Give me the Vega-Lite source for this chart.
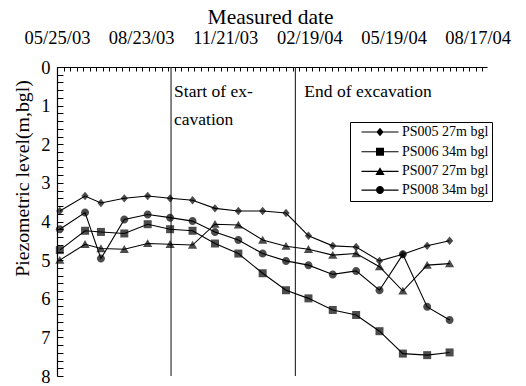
{
  "$schema": "https://vega.github.io/schema/vega-lite/v6.json",
  "width": 430,
  "height": 309,
  "autosize": {"type": "none"},
  "padding": {"left": 57, "top": 67, "right": 39, "bottom": 10},
  "background": "white",
  "config": {
    "view": {"stroke": null},
    "axis": {
      "grid": false,
      "domainColor": "black",
      "tickColor": "black",
      "labelColor": "black",
      "titleColor": "black",
      "labelFont": "Times New Roman",
      "titleFont": "Times New Roman",
      "titleFontWeight": "normal",
      "labelFontSize": 18.5,
      "titleFontSize": 21.5
    },
    "legend": {
      "labelFont": "Times New Roman",
      "labelFontSize": 14,
      "labelColor": "black"
    }
  },
  "datasets": {
    "levels": [
      {"date": "2003-05-28", "PS005 27m bgl": 3.73, "PS006 34m bgl": 4.74, "PS007 27m bgl": 5.00, "PS008 34m bgl": 4.20},
      {"date": "2003-06-24", "PS005 27m bgl": 3.34, "PS006 34m bgl": 4.24, "PS007 27m bgl": 4.59, "PS008 34m bgl": 3.77},
      {"date": "2003-07-11", "PS005 27m bgl": 3.52, "PS006 34m bgl": 4.27, "PS007 27m bgl": 4.70, "PS008 34m bgl": 4.96},
      {"date": "2003-08-05", "PS005 27m bgl": 3.40, "PS006 34m bgl": 4.31, "PS007 27m bgl": 4.72, "PS008 34m bgl": 3.95},
      {"date": "2003-08-30", "PS005 27m bgl": 3.34, "PS006 34m bgl": 4.07, "PS007 27m bgl": 4.57, "PS008 34m bgl": 3.82},
      {"date": "2003-09-23", "PS005 27m bgl": 3.40, "PS006 34m bgl": 4.20, "PS007 27m bgl": 4.59, "PS008 34m bgl": 3.90},
      {"date": "2003-10-17", "PS005 27m bgl": 3.45, "PS006 34m bgl": 4.24, "PS007 27m bgl": 4.61, "PS008 34m bgl": 3.99},
      {"date": "2003-11-10", "PS005 27m bgl": 3.66, "PS006 34m bgl": 4.57, "PS007 27m bgl": 4.07, "PS008 34m bgl": 4.27},
      {"date": "2003-12-05", "PS005 27m bgl": 3.73, "PS006 34m bgl": 4.83, "PS007 27m bgl": 4.09, "PS008 34m bgl": 4.48},
      {"date": "2003-12-31", "PS005 27m bgl": 3.73, "PS006 34m bgl": 5.34, "PS007 27m bgl": 4.48, "PS008 34m bgl": 4.83},
      {"date": "2004-01-25", "PS005 27m bgl": 3.78, "PS006 34m bgl": 5.78, "PS007 27m bgl": 4.64, "PS008 34m bgl": 5.02},
      {"date": "2004-02-18", "PS005 27m bgl": 4.37, "PS006 34m bgl": 5.99, "PS007 27m bgl": 4.72, "PS008 34m bgl": 5.13},
      {"date": "2004-03-15", "PS005 27m bgl": 4.63, "PS006 34m bgl": 6.29, "PS007 27m bgl": 4.87, "PS008 34m bgl": 5.37},
      {"date": "2004-04-09", "PS005 27m bgl": 4.66, "PS006 34m bgl": 6.42, "PS007 27m bgl": 4.83, "PS008 34m bgl": 5.28},
      {"date": "2004-05-04", "PS005 27m bgl": 5.02, "PS006 34m bgl": 6.84, "PS007 27m bgl": 5.17, "PS008 34m bgl": 5.78},
      {"date": "2004-05-29", "PS005 27m bgl": 4.85, "PS006 34m bgl": 7.42, "PS007 27m bgl": 5.80, "PS008 34m bgl": 4.85},
      {"date": "2004-06-24", "PS005 27m bgl": 4.63, "PS006 34m bgl": 7.46, "PS007 27m bgl": 5.13, "PS008 34m bgl": 6.21},
      {"date": "2004-07-18", "PS005 27m bgl": 4.50, "PS006 34m bgl": 7.39, "PS007 27m bgl": 5.09, "PS008 34m bgl": 6.55}
    ],
    "events": [
      {"date": "2003-09-24", "event": "start", "label": "Start of ex-\ncavation"},
      {"date": "2004-02-04", "event": "end", "label": "End of excavation"}
    ]
  },
  "resolve": {
    "scale": {"shape": "independent"},
    "axis": {"x": "independent", "y": "independent"},
    "legend": {"shape": "independent"}
  },
  "layer": [
    {
      "data": {"name": "events"},
      "mark": {"type": "rule", "color": "#222222", "strokeWidth": 1.1},
      "encoding": {
        "x": {
          "field": "date", "type": "temporal",
          "scale": {"type": "utc", "nice": false,
            "domain": [{"year": 2003, "month": 5, "date": 25, "utc": true}, {"year": 2004, "month": 8, "date": 27, "utc": true}]},
          "axis": {
            "orient": "top",
            "title": "Measured date",
            "titleBaseline": "middle",
            "titleY": -50,
            "titleX": 213,
            "values": [
              {"year": 2003, "month": 5, "date": 25, "utc": true},
              {"year": 2003, "month": 8, "date": 23, "utc": true},
              {"year": 2003, "month": 11, "date": 21, "utc": true},
              {"year": 2004, "month": 2, "date": 19, "utc": true},
              {"year": 2004, "month": 5, "date": 19, "utc": true},
              {"year": 2004, "month": 8, "date": 17, "utc": true}
            ],
            "format": "%m/%d/%y",
            "ticks": false,
            "domain": true,
            "domainWidth": 1.2,
            "labelPadding": 20,
            "labelFlush": false,
            "labelOverlap": false,
            "labelBound": false
          }
        }
      }
    },
    {
      "data": {"name": "events"},
      "transform": [{"filter": "datum.event === 'start'"}],
      "mark": {"type": "text", "font": "Times New Roman", "align": "left", "baseline": "alphabetic", "dx": 3, "fontSize": 17.5, "lineBreak": "\n", "lineHeight": 28, "color": "black"},
      "encoding": {
        "x": {"field": "date", "type": "temporal", "axis": null},
        "y": {"datum": 0.78, "type": "quantitative", "axis": null},
        "text": {"field": "label", "type": "nominal"}
      }
    },
    {
      "data": {"name": "events"},
      "transform": [{"filter": "datum.event === 'end'"}],
      "mark": {"type": "text", "font": "Times New Roman", "align": "left", "baseline": "alphabetic", "dx": 9, "fontSize": 17.5, "color": "black"},
      "encoding": {
        "x": {"field": "date", "type": "temporal", "axis": null},
        "y": {"datum": 0.78, "type": "quantitative", "axis": null},
        "text": {"field": "label", "type": "nominal"}
      }
    },
    {
      "data": {"name": "levels"},
      "transform": [{"fold": ["PS005 27m bgl", "PS006 34m bgl", "PS007 27m bgl", "PS008 34m bgl"], "as": ["well", "level"]}],
      "mark": {"type": "line", "color": "black", "strokeWidth": 1.1},
      "encoding": {
        "x": {
          "field": "date", "type": "temporal",
          "axis": {
            "orient": "bottom",
            "offset": -309,
            "title": null,
            "labels": false,
            "domain": false,
            "ticks": true,
            "tickColor": "black",
            "tickOpacity": 1,
            "tickSize": 4,
            "tickWidth": 1,
            "zindex": 2,
            "tickCount": {"interval": "week", "step": 1}
          }
        },
        "y": {
          "field": "level", "type": "quantitative",
          "scale": {"domain": [0, 8], "reverse": true, "nice": false, "zero": false},
          "axis": {
            "orient": "left",
            "title": "Piezometric level(m,bgl)",
            "titleFontSize": 19.8,
            "titleAngle": -90,
            "titleBaseline": "middle",
            "titleAlign": "center",
            "titleX": -35,
            "titleY": 111,
            "values": [0, 1, 2, 3, 4, 5, 6, 7, 8],
            "ticks": false,
            "domain": true,
            "domainWidth": 1.2,
            "labelPadding": 7,
            "labelFlush": false,
            "labelOverlap": false,
            "labelBound": false
          }
        },
        "detail": {"field": "well", "type": "nominal"}
      }
    },
    {
      "data": {"name": "levels"},
      "transform": [{"fold": ["PS005 27m bgl", "PS006 34m bgl", "PS007 27m bgl", "PS008 34m bgl"], "as": ["well", "level"]}],
      "mark": {"type": "point", "filled": true, "color": "black", "size": 64},
      "encoding": {
        "x": {"field": "date", "type": "temporal", "axis": null},
        "y": {
          "field": "level", "type": "quantitative",
          "axis": {
            "orient": "right",
            "offset": -430,
            "title": null,
            "labels": false,
            "domain": false,
            "ticks": true,
            "tickColor": "black",
            "tickOpacity": 1,
            "tickSize": 6,
            "tickWidth": 1,
            "zindex": 2,
            "values": [0, 0.2, 0.4, 0.6, 0.8, 1, 1.2, 1.4, 1.6, 1.8, 2, 2.2, 2.4, 2.6, 2.8, 3, 3.2, 3.4, 3.6, 3.8, 4, 4.2, 4.4, 4.6, 4.8, 5, 5.2, 5.4, 5.6, 5.8, 6, 6.2, 6.4, 6.6, 6.8, 7, 7.2, 7.4, 7.6, 7.8, 8]
          }
        },
        "shape": {
          "field": "well", "type": "nominal", "legend": null,
          "scale": {
            "domain": ["PS005 27m bgl", "PS006 34m bgl", "PS007 27m bgl", "PS008 34m bgl"],
            "range": [
              "M0,-1.05L0.9,0L0,1.05L-0.9,0Z",
              "M-1,-1H1V1H-1Z",
              "M0,-1.05L1.15,0.9H-1.15Z",
              "M1,0A1,1,0,1,1,-1,0A1,1,0,1,1,1,0Z"
            ]
          }
        }
      }
    },
    {
      "data": {"name": "levels"},
      "transform": [{"fold": ["PS005 27m bgl", "PS006 34m bgl", "PS007 27m bgl", "PS008 34m bgl"], "as": ["well", "level"]}],
      "mark": {"type": "point", "filled": true, "color": "black", "opacity": 0, "size": 64},
      "encoding": {
        "x": {"field": "date", "type": "temporal", "axis": null},
        "y": {"field": "level", "type": "quantitative", "axis": null},
        "shape": {
          "field": "well", "type": "nominal",
          "scale": {
            "domain": ["PS005 27m bgl", "PS006 34m bgl", "PS007 27m bgl", "PS008 34m bgl"],
            "range": [
              "M-3.7,-0.11H3.7V0.11H-3.7ZM0,-0.84L0.72,0L0,0.84L-0.72,0Z",
              "M-3.7,-0.11H3.7V0.11H-3.7ZM-0.8,-0.8H0.8V0.8H-0.8Z",
              "M-3.7,-0.11H3.7V0.11H-3.7ZM0,-0.84L0.92,0.72H-0.92Z",
              "M-3.7,-0.11H3.7V0.11H-3.7ZM0.8,0A0.8,0.8,0,1,1,-0.8,0A0.8,0.8,0,1,1,0.8,0Z"
            ]
          },
          "legend": {
            "title": null,
            "orient": "none",
            "legendX": 293,
            "legendY": 55,
            "strokeColor": "black",
            "fillColor": "white",
            "cornerRadius": 0,
            "padding": 3,
            "rowPadding": 4.7,
            "symbolOffset": 20,
            "labelOffset": 15,
            "symbolOpacity": 1,
            "symbolFillColor": "black"
          }
        }
      }
    }
  ]
}
